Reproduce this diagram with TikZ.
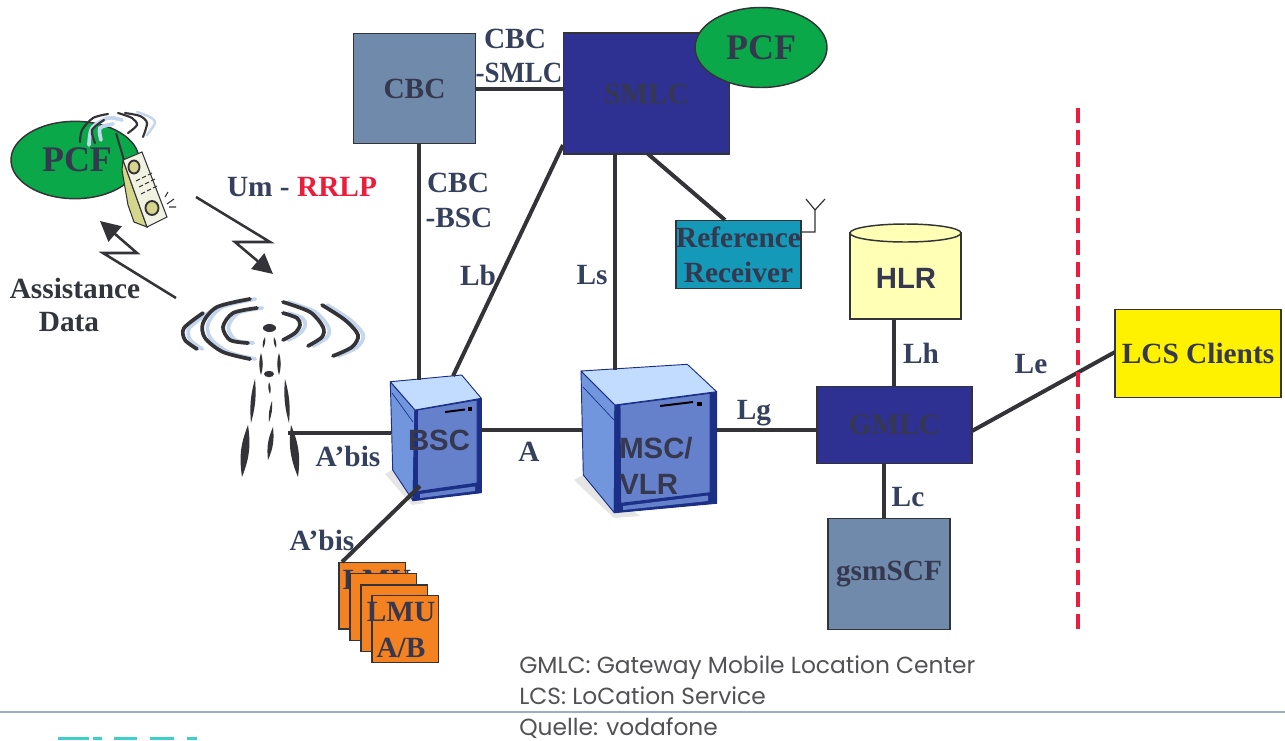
\documentclass[tikz,border=0pt]{standalone}
\usepackage{fontspec}
\usetikzlibrary{arrows.meta,shapes.geometric}
\setmainfont{Liberation Serif}
\newfontfamily\arialf{Liberation Sans}
\newfontfamily\capf{Poppins}
\definecolor{ink}{HTML}{34405C}
\definecolor{dk}{HTML}{333338}
\definecolor{boxt}{HTML}{35384E}
\definecolor{steel}{HTML}{6F8AAB}
\definecolor{navy}{HTML}{2E3192}
\definecolor{teal}{HTML}{1499B8}
\definecolor{pale}{HTML}{FFFFB5}
\definecolor{yel}{HTML}{FFF200}
\definecolor{org}{HTML}{F58220}
\definecolor{grn}{HTML}{0BA84A}
\definecolor{red1}{HTML}{ED1C3C}
\definecolor{wave}{HTML}{C3D6EE}
\definecolor{rule}{HTML}{9CADC9}
\definecolor{srvL}{HTML}{7196DE}
\definecolor{srvF}{HTML}{6681CC}
\definecolor{srvT}{HTML}{C2DCFF}
\definecolor{srvD}{HTML}{1B2F86}
\definecolor{ph}{HTML}{F1F2E2}
\definecolor{ph2}{HTML}{D5D68B}
\definecolor{logo}{HTML}{3ECFCB}
\tikzset{
  x=0.75pt,y=-0.75pt,
  lab/.style={font=\fontsize{22}{26}\selectfont\bfseries,text=ink,inner sep=0pt,align=center},
  box/.style={draw=dk,line width=1.1pt,inner sep=0pt,font=\fontsize{22}{26}\selectfont\bfseries,text=boxt,align=center},
  lmubox/.style={draw=dk,line width=1.1pt,fill=org,inner sep=0pt,minimum width=50pt,minimum height=50pt},
  srvtxt/.style={font=\arialf\fontsize{22}{27}\selectfont\bfseries,text=boxt,inner sep=0pt,align=left},
  conn/.style={draw=dk,line width=3pt},
  zig/.style={draw=dk,line width=1.9pt,-{Triangle[length=15pt,width=15pt]},line join=miter},
  arcd/.style={draw=dk,line width=2.8pt,line cap=round},
  arcb/.style={draw=wave,line width=2.8pt,line cap=round},
  srv/.style={draw=srvD,line width=0.7pt,line join=round}
}
\begin{document}
\begin{tikzpicture}
\useasboundingbox (0,0) rectangle (1285,740);
% footer
\draw[rule,line width=1.1pt] (0,712) -- (1285,712);
\foreach \a/\b in {58/89,93/102,114/137,150/174,187/197}
  \fill[logo] (\a,737) rectangle (\b,740);

% boxes
\node[box,fill=steel,minimum width=91.5pt,minimum height=82.5pt] (cbc) at (414.5,88.5) {CBC};
\node[box,fill=navy,minimum width=124.5pt,minimum height=90.75pt] (smlc) at (646.5,93.5) {SMLC};
\node[ellipse,draw=dk,line width=1.1pt,fill=grn,minimum width=99pt,minimum height=60pt,inner sep=0pt,font=\fontsize{27}{30}\selectfont\bfseries,text=boxt] (pcfb) at (761,47.5) {PCF};
\node[box,fill=teal,minimum width=91.5pt,minimum height=51pt] (ref) at (738.5,254.5) {Reference\\Receiver};
\node[box,fill=navy,minimum width=116.25pt,minimum height=57.75pt] (gmlc) at (894.5,425) {GMLC};
\node[box,fill=steel,minimum width=91.5pt,minimum height=83.25pt] (scf) at (889,574) {gsmSCF};
\node[box,fill=yel,minimum width=124.5pt,minimum height=66pt] (lcs) at (1198,353.5) {LCS Clients};

% reference receiver antenna
\coordinate (antb) at (815,232);
\coordinate (antt) at (815,210);
\draw[dk,line width=0.9pt] (ref.east |- antb) -- (antb) -- (antt) (806,199) -- (antt) -- (825,199);

% HLR
\coordinate (hlrb) at (894,319);
\draw[draw=dk,line width=1.1pt,fill=pale] (850,233) -- (850,319) -- (961,319) -- (961,233) -- cycle;
\draw[draw=dk,line width=1.1pt,fill=pale] (905.5,233) ellipse[x radius=55.5,y radius=9];
\node[srvtxt] (hlr) at (906,278) {HLR};

% servers
\fill[black!10] (392,470) -- (385,474) -- (412,505) -- (425,503) -- cycle;
\draw[srv,fill=srvL] (390.3,381.7) -- (415,410) -- (413,500.7) -- (392.7,470) -- cycle;
\draw[srv,line width=0.5pt] (392,393) -- (413,422);
\draw[srv,fill=srvD] (415,410) -- (481.3,398.3) -- (481.3,492.7) -- (413,500.7) -- cycle;
\draw[srv,fill=srvF] (417.5,410) -- (477,400) -- (477,483) -- (417.5,491.5) -- cycle;
\fill[srvF] (420,494) -- (475,486.5) -- (475,491) -- (420,498) -- cycle;
\draw[srv,fill=srvT] (390.3,381.7) -- (461.7,375) -- (481.3,398.3) -- (415,410) -- cycle;
\fill[black] (445,411) -- (465,408.5) -- (465,410.5) -- (445,413) -- cycle;
\fill[black] (468,407) rectangle (472,411);
\node[srvtxt] (bsc) at (439,440) {BSC};

\fill[black!10] (583,475) -- (574,480) -- (614,518) -- (640,516) -- cycle;
\draw[srv,fill=srvL] (581,371) -- (615,405) -- (614.3,512.7) -- (583.3,475) -- cycle;
\draw[srv,line width=0.5pt] (583,387) -- (614,420);
\draw[srv,fill=srvD] (615,405) -- (716.7,391.7) -- (716.7,503.3) -- (614.3,512.7) -- cycle;
\draw[srv,fill=srvF] (620,405) -- (710,393.3) -- (710,492.7) -- (620.7,503.3) -- cycle;
\fill[srvF] (623,506) -- (708,495.5) -- (708,501) -- (623,510) -- cycle;
\draw[srv,fill=srvT] (581,371) -- (687.3,364.3) -- (716.7,391.7) -- (615,405) -- cycle;
\fill[black] (660,405) -- (693,401) -- (693,403) -- (660,407) -- cycle;
\fill[black] (697,402) rectangle (702,406);
\node[srvtxt,anchor=west] (msc) at (619,466) {MSC/\\VLR};

% connectors
\coordinate (bsctop) at (419,380);
\coordinate (bsctr) at (453,376);
\coordinate (msctop) at (615,370);
\coordinate (bscE) at (481,430);
\coordinate (mscW) at (582,430);
\coordinate (mscE) at (717,430);
\coordinate (twr) at (288,433);
\coordinate (bscW) at (391,433);
\coordinate (bscS) at (420,486);
\coordinate (lmutop) at (342,562);
\coordinate (smlcsw) at (563,145);
\coordinate (smlcs) at (648,154);
\coordinate (refn) at (725,220);
\coordinate (gmlcE) at (972,431);
\coordinate (lcsW) at (1115,352);
\coordinate (lcx) at (884,518);
\draw[conn] (cbc.east) -- (cbc.east -| smlc.west);
\draw[conn] (cbc.south -| bsctop) -- (bsctop);
\draw[conn] (smlcsw) -- (bsctr);
\draw[conn] (smlc.south -| msctop) -- (msctop);
\draw[conn] (smlcs) -- (refn);
\draw[conn] (twr) -- (bscW);
\draw[conn] (bscE) -- (mscW);
\draw[conn] (mscE) -- (mscE -| gmlc.west);
\draw[conn] (hlrb) -- (hlrb |- gmlc.north);
\draw[conn] (gmlc.south -| lcx) -- (lcx);
\draw[conn] (gmlcE) -- (lcsW);
\draw[draw=red1,line width=2.4pt,dash pattern=on 11pt off 5.5pt] (1078,108) -- (1078,632);

% LMU stack
\node[lmubox] (lmu1) at (372.2,595.8) {};
\node[lab,text=boxt] (lmu1t) at (377,580) {LMU};
\node[lmubox] (lmu2) at (383.3,607) {};
\node[lmubox] (lmu3) at (394.3,618.3) {};
\node[lmubox] (lmu4) at (405.3,629) {};
\node[lab,text=boxt,font=\fontsize{22}{27}\selectfont\bfseries] (lmu4t) at (401,630) {LMU\\A/B};
\draw[conn] (bscS) -- (lmutop);

% PCF + phone
\node[ellipse,draw=dk,line width=1.1pt,fill=grn,minimum width=96pt,minimum height=58pt,inner sep=0pt] (pcfa) at (75,160) {};
\node[inner sep=0pt,font=\fontsize{27}{30}\selectfont\bfseries,text=boxt] (pcfat) at (77,160) {PCF};
\draw[draw=dk,line width=1.5pt] (116,133) -- (124,160);
\draw[draw=dk,line width=0.8pt,fill=ph2] (122,170) -- (123,160) -- (147,227) -- (134,222) -- (128,205) -- cycle;
\draw[draw=dk,line width=0.8pt,fill=ph] (123,160) -- (142,152) -- (167,217) -- (147,227) -- cycle;
\draw[draw=dk,line width=1.4pt,fill=ph2] (134,167) circle[x radius=5.5,y radius=6.5];
\draw[draw=dk,line width=1.4pt,fill=ph2] (152,208) circle[x radius=6.5,y radius=7];
\foreach \bx/\by in {136/181,142/178,148/175,139/187,145/184,151/181,141/194,147/191,153/188}
  \draw[dk,line width=0.8pt] (\bx,\by) -- ++(4,-2);
\draw[dk,line width=0.8pt] (165,197) -- (168,192) (167,204) -- (174,199) (169,207) -- (176,207);
\draw[arcb] plot[smooth] coordinates {(89,145) (92,128) (108,118) (122,120)};
\draw[arcb] plot[smooth] coordinates {(101,140) (100,128) (113,124)};
\draw[arcb,line width=1.8pt] plot[smooth] coordinates {(137,112) (150,117) (155,123) (147,135)};
\draw[arcd,line width=1.6pt] plot[smooth] coordinates {(80,142) (82,130) (93,118) (108,114)};
\draw[arcd,line width=1.6pt] plot[smooth] coordinates {(95,143) (92,130) (104,120)};
\draw[arcd,line width=1.6pt] plot[smooth] coordinates {(118,113) (132,118) (137,125) (128,133)};
\draw[arcd,line width=1.6pt] plot[smooth] coordinates {(125,113) (140,116) (147,123) (143,137)};

% tower
\foreach \p in {%
  {(197,349) (185,340) (184,328) (203,313)},{(250,359) (223,352) (205,338) (203,323) (217,307) (250,299)},%
  {(257,308) (233,313) (223,327) (230,340) (248,343)},{(283,313) (297,318) (300,325) (295,333) (283,340)},%
  {(283,302) (310,312) (323,327) (322,337) (308,346)},{(322,305) (345,320) (358,335) (352,347) (333,356)}}
  {\draw[arcb,xshift=4pt] plot[smooth] coordinates {\p};\draw[arcd] plot[smooth] coordinates {\p};}
\foreach \a/\b/\c/\d/\e in {248/425/242/477/15,273/427/268/460/15,291/425/298/477/15,255/379/251/423/10,285/379/289/423/10,272/401/269/422/12,269/382/270/394/20,261/353/261/375/16,279/353/279/375/16,265/337/263/348/20,274/337/276/348/20}
  \fill[dk] (\a,\b) to[bend left=\e] (\c,\d) to[bend left=\e] (\a,\b);
\fill[dk] (269,374) ellipse[x radius=5,y radius=3.2];
\fill[dk] (269.5,328) ellipse[x radius=6.5,y radius=4];

% zigzag arrows
\coordinate (za) at (196,197); \coordinate (zb) at (270,242); \coordinate (zc) at (235,242); \coordinate (zd) at (273,274);
\draw[zig] (za) -- (zb) -- (zc) -- (zd);
\coordinate (ya) at (176,298); \coordinate (yb) at (103,253); \coordinate (yc) at (137,253); \coordinate (yd) at (100,221);
\draw[zig] (ya) -- (yb) -- (yc) -- (yd);

% labels
\node[lab] (l1) at (515,39) {CBC};
\node[lab] (l2) at (519,73) {\scalebox{.92}[1]{-SMLC}};
\node[lab] (l3) at (458,183) {CBC};
\node[lab] (l4) at (459,218) {-BSC};
\node[lab] (l5) at (478,275) {Lb};
\node[lab] (l6) at (592,275) {Ls};
\node[lab] (l7) at (302,187) {Um - \textcolor{red1}{RRLP}};
\node[lab,text=dk!85!ink] (l8) at (75,288) {Assistance};
\node[lab,text=dk!85!ink] (l8b) at (69,322) {Data};
\node[lab] (l9) at (348,456) {A’bis};
\node[lab] (l10) at (529,452) {A};
\node[lab] (l11) at (754,413) {Lg};
\node[lab] (l12) at (921,353) {Lh};
\node[lab] (l13) at (1031,364) {Le};
\node[lab] (l14) at (908,497) {Lc};
\node[lab] (l15) at (322,540) {A’bis};
\node[anchor=north west,inner sep=0pt,align=left,text=dk!85,font=\capf\fontsize{17.5}{23.25}\selectfont] (cap) at (519,655) {GMLC: Gateway Mobile Location Center\\LCS: LoCation Service\\Quelle: vodafone};
\end{tikzpicture}
\end{document}
